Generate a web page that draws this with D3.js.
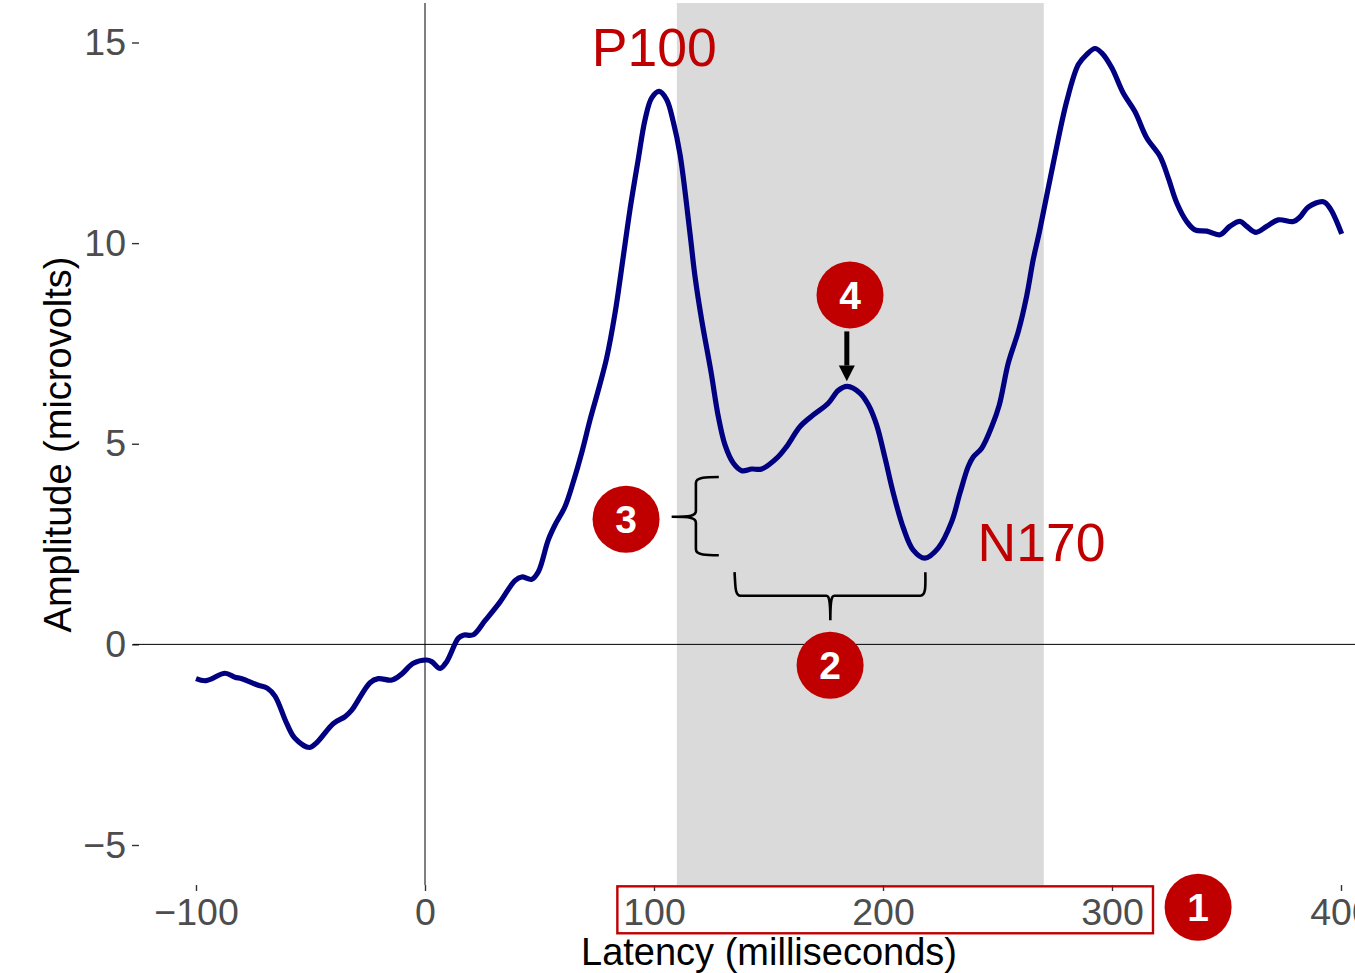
<!DOCTYPE html>
<html><head><meta charset="utf-8">
<script src="https://cdn.jsdelivr.net/npm/d3@7"></script>
<style>
html,body{margin:0;padding:0;background:#fff;overflow:hidden}
text{font-family:"Liberation Sans",Arial,sans-serif}
</style></head><body>
<svg id="c" width="1355" height="973"></svg>
<script>
const latency=[-100,-95.6,-87.3,-83,-80,-72.8,-68.9,-65.5,-60.4,-56.8,-50.5,-47.3,-40,-34.9,-32,-24,-20.4,-14.5,-10.2,-5.1,0.7,2.9,6.6,9.5,14.5,16.7,21.1,26.2,32.8,39.3,42.2,46.6,49.5,53.8,56.8,61.1,64.8,68.4,72.1,75.7,79.3,83,86.6,89.5,93.1,96.1,99,102.3,105.5,108.4,111.4,115.7,117.9,120.8,124.9,128.1,131,134.6,138.3,142.7,147,153.6,157.9,163.8,169.6,176.1,180.5,184.4,190,193.6,197.2,200.9,204.5,208.9,213.2,218.3,224.1,230,233.6,237.2,239.4,243.1,247.5,250.8,254.7,259.1,262.7,265.6,268.3,274.4,280.2,285.3,288.9,292.6,295.5,299.9,304.9,310,315.2,321,324.6,328.3,332.6,336.2,341.4,347.2,351.5,355.9,358.8,362.9,367.6,372.6,379.2,382.1,385.7,392.3,395.2,400.3];
const amplitude=[-0.855,-0.905,-0.72,-0.82,-0.855,-1.02,-1.09,-1.29,-1.97,-2.34,-2.57,-2.45,-1.97,-1.80,-1.64,-0.955,-0.855,-0.89,-0.74,-0.47,-0.39,-0.43,-0.60,-0.43,0.15,0.23,0.24,0.59,1.06,1.59,1.68,1.62,1.81,2.60,2.98,3.43,4.06,4.77,5.60,6.34,7.13,8.26,9.67,10.83,12.08,13.08,13.62,13.78,13.58,13.03,12.2,10.25,9.17,8.09,6.79,5.67,4.97,4.52,4.33,4.37,4.37,4.64,4.93,5.43,5.72,6.01,6.33,6.43,6.26,5.97,5.47,4.64,3.77,2.90,2.35,2.15,2.40,3.06,3.77,4.43,4.67,4.89,5.43,5.97,7.01,7.80,8.67,9.59,10.28,12.0,13.53,14.45,14.70,14.85,14.74,14.37,13.74,13.28,12.62,12.16,11.62,11.0,10.54,10.33,10.30,10.21,10.42,10.54,10.42,10.27,10.42,10.58,10.54,10.65,10.90,11.03,10.87,10.23];
const xTicks=[-100,0,100,200,300,400];
const yTicks=[-5,0,5,10,15];
const windowMs=[110,270.2];
const badges=[{n:"1",t:337.6,a:-6.55},{n:"2",t:176.9,a:-0.52},{n:"3",t:87.8,a:3.12},{n:"4",t:185.6,a:8.71}];
const peaks=[{label:"P100",t:72.8,a:14.42},{label:"N170",t:241.3,a:2.08}];

const svg=d3.select("#c");
const x=d3.scaleLinear().domain([-100,400]).range([196,1341]);
const y=d3.scaleLinear().domain([-5,15]).range([845,42.5]);
const panelTop=3,panelBottom=885,panelLeft=139;
const fmt=d=>String(d).replace("-","\u2212");

svg.append("rect").attr("x",x(windowMs[0])).attr("width",x(windowMs[1])-x(windowMs[0]))
  .attr("y",panelTop).attr("height",panelBottom-panelTop).attr("fill","#dadada");

const gx=svg.append("g").attr("transform",`translate(0,${panelBottom})`)
  .call(d3.axisBottom(x).tickValues(xTicks).tickFormat(fmt).tickSize(6).tickPadding(8));
const gy=svg.append("g").attr("transform",`translate(${panelLeft},0)`)
  .call(d3.axisLeft(y).tickValues(yTicks).tickFormat(fmt).tickSize(7).tickPadding(6));
[gx,gy].forEach(g=>{g.select(".domain").remove();
  g.selectAll(".tick line").attr("stroke","#333").attr("stroke-width",1.4);
  g.selectAll("text").attr("fill","#4d4d4d").attr("font-size",37.5).attr("font-family",'"Liberation Sans"');});
gx.selectAll("text").attr("dy",null).attr("y",40);

svg.append("line").attr("x1",panelLeft-6).attr("x2",1355).attr("y1",y(0)).attr("y2",y(0)).attr("stroke","#000").attr("stroke-width",1);
svg.append("line").attr("x1",x(0)).attr("x2",x(0)).attr("y1",panelTop).attr("y2",panelBottom).attr("stroke","#000").attr("stroke-width",1);

svg.append("path").datum(latency.map((t,i)=>[t,amplitude[i]]))
  .attr("fill","none").attr("stroke","#000080").attr("stroke-width",5.2).attr("stroke-linejoin","round")
  .attr("d",d3.line().x(d=>x(d[0])).y(d=>y(d[1])).curve(d3.curveCatmullRom.alpha(0.5)));

svg.selectAll(".peak").data(peaks).join("text").attr("class","peak")
  .attr("x",d=>x(d.t)).attr("y",d=>y(d.a)).attr("fill","#c00000").attr("font-size",53.5).text(d=>d.label);

// curly brackets
const b2=d3.path(), L=x(135.6),R=x(218.5),yE=y(1.80),yB=y(1.21),yT=y(0.60),M=x(177);
b2.moveTo(L-1,yE);b2.bezierCurveTo(L,yE+12,L-1,yB,L+5,yB);b2.lineTo(M-4,yB);
b2.bezierCurveTo(M-1,yB,M,yB+6,M,yT);b2.bezierCurveTo(M,yB+6,M+1,yB,M+4,yB);
b2.lineTo(R-5,yB);b2.bezierCurveTo(R+1,yB,R,yE+12,R,yE);
svg.append("path").attr("d",b2.toString()).attr("fill","none").attr("stroke","#000").attr("stroke-width",2.6);

const b3=d3.path(), xE=x(128.3),xS=x(118.3),xT=x(107.7),yA=y(4.17),yZ=y(2.22),yM=y(3.18);
b3.moveTo(xE,yA);b3.bezierCurveTo(xE-12,yA,xS,yA,xS,yA+6);b3.lineTo(xS,yM-6);
b3.bezierCurveTo(xS,yM-1,xS-5,yM,xT,yM);b3.bezierCurveTo(xS-5,yM,xS,yM+1,xS,yM+6);
b3.lineTo(xS,yZ-6);b3.bezierCurveTo(xS,yZ,xE-12,yZ,xE,yZ);
svg.append("path").attr("d",b3.toString()).attr("fill","none").attr("stroke","#000").attr("stroke-width",2.6);

// arrow
const ax=x(184.2),ay0=y(7.8),ay1=y(6.56),ah=y(6.95);
svg.append("line").attr("x1",ax).attr("x2",ax).attr("y1",ay0).attr("y2",ah).attr("stroke","#000").attr("stroke-width",5);
svg.append("path").attr("d",d3.line()([[ax-8,ah],[ax+8,ah],[ax,ay1]])+"Z").attr("fill","#000");

// highlight box
svg.append("rect").attr("x",x(84)).attr("y",y(-6.03)).attr("width",x(317.9)-x(84)).attr("height",y(-7.2)-y(-6.03))
  .attr("fill","none").attr("stroke","#c00000").attr("stroke-width",2.4);

const g=svg.selectAll(".badge").data(badges).join("g").attr("class","badge")
  .attr("transform",d=>`translate(${x(d.t)},${y(d.a)})`);
g.append("circle").attr("r",33.5).attr("fill","#c00000");
g.append("text").attr("text-anchor","middle").attr("y",14).attr("fill","#fff").attr("font-weight","bold").attr("font-size",39).text(d=>d.n);

svg.append("text").attr("x",769).attr("y",965).attr("text-anchor","middle").attr("font-size",38).attr("fill","#000").text("Latency (milliseconds)");
svg.append("text").attr("transform","translate(71,444.5) rotate(-90)").attr("text-anchor","middle").attr("font-size",38).attr("fill","#000").text("Amplitude (microvolts)");
</script></body></html>
